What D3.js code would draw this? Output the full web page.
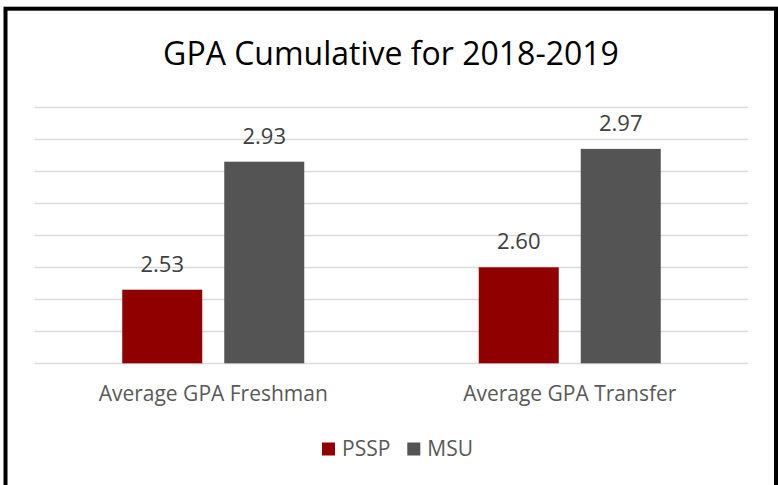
<!DOCTYPE html>
<html>
<head>
<meta charset="utf-8">
<script src="https://cdn.jsdelivr.net/npm/d3@7"></script>
<style>
  body { margin: 0; background: #fff; }
  svg { display: block; font-family: "Open Sans", "Noto Sans", sans-serif; }
</style>
</head>
<body>
<div id="chart"></div>
<script>
// chart data
const titleText = 'GPA Cumulative for 2018-2019';
const categories = ['Average GPA Freshman', 'Average GPA Transfer'];
const seriesNames = ['PSSP', 'MSU'];
const psspValues = [2.53, 2.60];
const msuValues = [2.93, 2.97];
const yDomain = [2.3, 3.1];
const yStep = 0.1;

const colors = { PSSP: '#900000', MSU: '#545454' };

const width = 778, height = 485;
const plot = { left: 35, right: 748, top: 107.3, bottom: 363.3 };

const svg = d3.select('#chart')
  .append('svg')
    .attr('width', width)
    .attr('height', height);

// outer frame
svg.append('rect')
  .attr('x', 5.5)
  .attr('y', 8.7)
  .attr('width', 770.5)
  .attr('height', 500)
  .attr('fill', 'none')
  .attr('stroke', '#000')
  .attr('stroke-width', 4);

svg.append('text')
  .attr('x', 391)
  .attr('y', 65)
  .attr('text-anchor', 'middle')
  .attr('font-size', 32)
  .attr('fill', '#000')
  .text(titleText);

const y = d3.scaleLinear()
  .domain(yDomain)
  .range([plot.bottom, plot.top]);

const gridValues = d3.range(yDomain[0], yDomain[1] + yStep / 2, yStep);

svg.append('g')
  .selectAll('line')
  .data(gridValues)
  .enter()
  .append('line')
    .attr('x1', plot.left)
    .attr('x2', plot.right)
    .attr('y1', d => Math.round(y(d)) + 0.5)
    .attr('y2', d => Math.round(y(d)) + 0.5)
    .attr('stroke', '#d9d9d9')
    .attr('stroke-width', 1.3);

const x0 = d3.scaleBand()
  .domain(categories)
  .range([plot.left, plot.right])
  .padding(0);

const groupWidth = 182;
const x1 = d3.scaleBand()
  .domain(seriesNames)
  .range([0, groupWidth])
  .paddingInner(0.2157);

const rows = [];
categories.forEach((c, i) => {
  rows.push({ cat: c, series: 'PSSP', value: psspValues[i] });
  rows.push({ cat: c, series: 'MSU', value: msuValues[i] });
});

const groupOffset = (x0.bandwidth() - groupWidth) / 2;
const barX = d => x0(d.cat) + groupOffset + x1(d.series);

svg.append('g')
  .selectAll('rect')
  .data(rows)
  .enter()
  .append('rect')
    .attr('x', barX)
    .attr('y', d => y(d.value))
    .attr('width', x1.bandwidth())
    .attr('height', d => y(yDomain[0]) - y(d.value))
    .attr('fill', d => colors[d.series]);

svg.append('g')
  .selectAll('text')
  .data(rows)
  .enter()
  .append('text')
    .attr('x', d => barX(d) + x1.bandwidth() / 2)
    .attr('y', d => y(d.value) - 18)
    .attr('text-anchor', 'middle')
    .attr('font-size', 22)
    .attr('fill', '#404040')
    .text(d => d3.format('.2f')(d.value));

// category axis labels
svg.append('g')
  .selectAll('text')
  .data(categories)
  .enter()
  .append('text')
    .attr('x', d => x0(d) + x0.bandwidth() / 2)
    .attr('y', 401)
    .attr('text-anchor', 'middle')
    .attr('font-size', 21)
    .attr('fill', '#595959')
    .text(d => d);

// legend
const legend = svg.append('g');
let lx = 322;
seriesNames.forEach(name => {
  legend.append('rect')
    .attr('x', lx)
    .attr('y', 442.5)
    .attr('width', 13)
    .attr('height', 13)
    .attr('fill', colors[name]);
  const t = legend.append('text')
    .attr('x', lx + 20)
    .attr('y', 455.7)
    .attr('font-size', 21)
    .attr('fill', '#595959')
    .text(name);
  lx += 20 + t.node().getComputedTextLength() + 17;
});
</script>
</body>
</html>
